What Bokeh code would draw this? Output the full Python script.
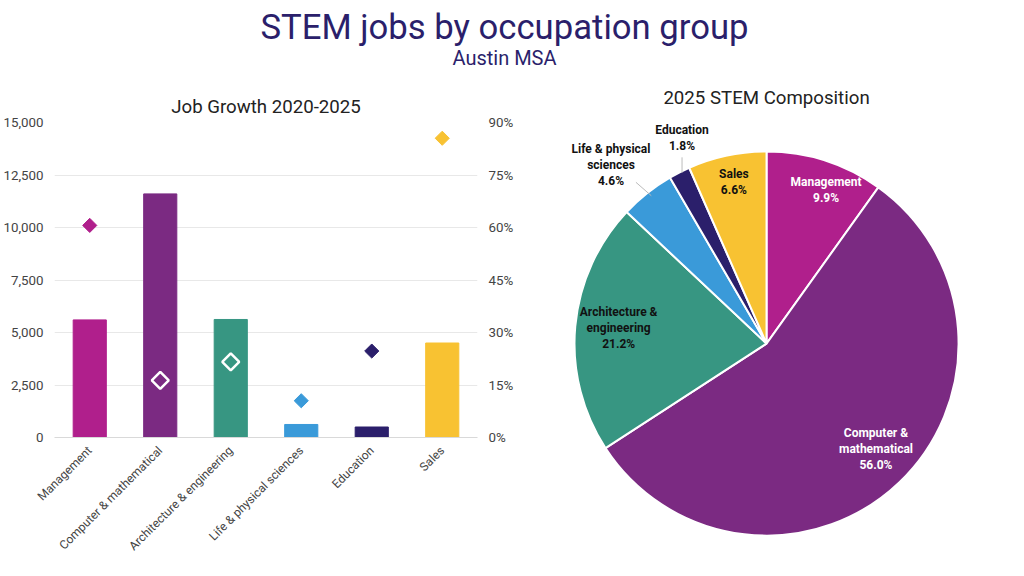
import math
from bokeh.plotting import figure
from bokeh.layouts import column, row
from bokeh.models import ColumnDataSource, FactorRange, Range1d, LinearAxis, FixedTicker, NumeralTickFormatter
from bokeh.core.properties import value
from bokeh.embed import file_html
from bokeh.resources import INLINE

FONT = "Roboto"

groups = ["Management", "Computer & mathematical", "Architecture & engineering",
          "Life & physical sciences", "Education", "Sales"]
colors = ["#B01F8C", "#7B2A82", "#379682", "#3A9AD9", "#2B1F6B", "#F8C232"]
job_growth = [5600, 11600, 5620, 620, 500, 4500]
pct_growth = [0.606, 0.163, 0.216, 0.105, 0.247, 0.855]
hollow = [False, True, True, False, False, False]

pie_labels = ["Management\n9.9%", "Computer &\nmathematical\n56.0%", "Architecture &\nengineering\n21.2%",
              "Life & physical\nsciences\n4.6%", "Education\n1.8%", "Sales\n6.6%"]
pie_share = [9.9, 56.0, 21.2, 4.6, 1.8, 6.6]
label_col = ["white", "white", "#111111", "#111111", "#111111", "#111111"]

# label anchors (layout, pie radius = 1)
LABEL_X = [0.31, 0.57, -0.77, -0.81, -0.44, -0.17]
LABEL_Y = [0.80, -0.55, 0.08, 0.93, 1.07, 0.84]
LEADER = dict(x0=[-0.68, -0.44], y0=[0.84, 0.97], x1=[-0.60, -0.44], y1=[0.77, 0.89])

# header
h = figure(width=1008, height=72, x_range=(0, 1), y_range=(0, 1), toolbar_location=None,
           output_backend="svg", min_border=0)
h.axis.visible = False
h.grid.visible = False
h.outline_line_color = None
h.text([0.5], [0.63], text=["STEM jobs by occupation group"], text_align="center", text_baseline="middle",
       text_font=value(FONT), text_font_size="26pt", text_color="#2B1F6B")
h.text([0.5], [0.2], text=["Austin MSA"], text_align="center", text_baseline="middle",
       text_font=value(FONT), text_font_size="15pt", text_color="#2B1F6B")

# bar chart
src = ColumnDataSource(dict(g=groups, v=job_growth, p=pct_growth, c=colors))
b = figure(width=516, height=488, x_range=FactorRange(*groups), y_range=Range1d(0, 15000),
           toolbar_location=None, output_backend="svg", title="Job Growth 2020-2025",
           min_border_left=47, min_border_right=10, min_border_bottom=10, min_border_top=50)
b.title.align = "center"
b.title.text_font = FONT
b.title.text_font_size = "14pt"
b.title.text_font_style = "normal"
b.title.text_color = "#222222"
b.extra_y_ranges = {"pct": Range1d(0, 0.9)}
b.vbar(x="g", top="v", width=0.47, color="c", source=src)
solid = [i for i in range(6) if not hollow[i]]
hol = [i for i in range(6) if hollow[i]]
b.scatter([groups[i] for i in solid], [pct_growth[i] for i in solid], y_range_name="pct", marker="square",
          size=10, angle=math.pi / 4, color=[colors[i] for i in solid])
b.scatter([groups[i] for i in hol], [pct_growth[i] for i in hol], y_range_name="pct", marker="square",
          size=12, angle=math.pi / 4, fill_color=None, line_color="white", line_width=2.5)
ra = LinearAxis(y_range_name="pct", ticker=FixedTicker(ticks=[0, .15, .3, .45, .6, .75, .9]),
                formatter=NumeralTickFormatter(format="0%"))
b.add_layout(ra, "right")
b.yaxis[0].ticker = FixedTicker(ticks=[0, 2500, 5000, 7500, 10000, 12500, 15000])
b.yaxis[0].formatter = NumeralTickFormatter(format="0,0")
for ax in b.yaxis:
    ax.axis_line_color = None
    ax.major_tick_line_color = None
    ax.minor_tick_line_color = None
for ax in b.axis:
    ax.major_label_text_font = FONT
    ax.major_label_text_font_size = "10pt"
    ax.major_label_text_color = "#444444"
b.xaxis.major_label_text_font_size = "9pt"
b.xaxis.major_label_orientation = math.pi / 4
b.xaxis.axis_line_color = "#D9D9D9"
b.xaxis.major_tick_line_color = None
b.xgrid.visible = False
b.ygrid.grid_line_color = "#E8E8E8"
b.outline_line_color = None
b.x_range.range_padding = 0.0

# pie
pp = figure(width=492, height=488, x_range=(-1.302, 1.26), y_range=(-1.13, 1.412), toolbar_location=None,
            output_backend="svg", min_border=0)
pp.axis.visible = False
pp.grid.visible = False
pp.outline_line_color = None
total = sum(pie_share)
starts, ends = [], []
a = math.pi / 2
for s in pie_share:
    e = a - 2 * math.pi * s / total
    starts.append(e)
    ends.append(a)
    a = e
pp.wedge(x=0, y=0, radius=1, start_angle=starts, end_angle=ends, fill_color=colors,
         line_color="white", line_width=2)
pp.segment(line_color="#BBBBBB", **LEADER)
pp.text(LABEL_X, LABEL_Y, text=pie_labels, text_align="center", text_baseline="middle", text_color=label_col,
        text_font=value(FONT), text_font_size="9pt", text_font_style="bold", text_line_height=1.15)
pp.text([0.0], [1.28], text=["2025 STEM Composition"], text_align="center", text_baseline="middle",
        text_font=value(FONT), text_font_size="14pt", text_color="#222222")

layout = column(h, row(column(b), column(pp)))
open("out.html", "w").write(file_html(layout, INLINE))
